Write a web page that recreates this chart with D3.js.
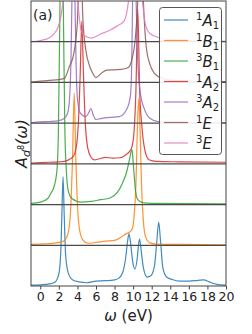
<!DOCTYPE html>
<html>
<head>
<meta charset="utf-8">
<script src="https://cdn.jsdelivr.net/npm/d3@7"></script>
<style>
  body { margin: 0; background: #fff; }
  svg { display: block; }
  text { font-family: "DejaVu Sans", sans-serif; }
</style>
</head>
<body>
<div class="canva"></div>
<script>
// spin multiplicity, irrep letter, subscript
const states = [["1", "A", "1"], ["1", "B", "1"], ["3", "B", "1"], ["1", "A", "2"],
                ["3", "A", "2"], ["1", "E", ""], ["3", "E", ""]];
const colors = ["#1f77b4", "#ff7f0e", "#2ca02c", "#d62728", "#9467bd", "#8c564b", "#e377c2"];
const xTicks = [0, 2, 4, 6, 8, 10, 12, 14, 16, 18, 20];

// spectra: [omega (eV), A]
const a1A1 = [[-1,0.02],[0,0.03],[1,0.05],[1.6,0.1],[2.0,0.3],[2.2,0.8],[2.33,1.8],[2.45,2.68],[2.57,1.8],[2.72,0.8],[3.0,0.33],[3.5,0.15],[4.2,0.1],[5,0.08],[6,0.12],[7,0.13],[8,0.15],[8.5,0.2],[8.9,0.35],[9.2,0.7],[9.4,1.1],[9.55,1.28],[9.7,1.1],[9.95,0.6],[10.2,0.42],[10.45,0.7],[10.6,1.05],[10.7,1.15],[10.85,0.9],[11.1,0.45],[11.5,0.22],[11.9,0.25],[12.3,0.5],[12.55,1.1],[12.75,1.57],[12.95,1.1],[13.2,0.45],[13.6,0.22],[14.2,0.16],[15,0.12],[16,0.12],[17,0.14],[17.6,0.15],[18.2,0.1],[19,0.04],[20,0.02]];
const a1B1 = [[-1,0.02],[0,0.03],[1,0.04],[2,0.07],[2.6,0.12],[3.0,0.3],[3.25,0.8],[3.48,2.2],[3.65,3.74],[3.82,2.2],[4.05,0.8],[4.3,0.3],[4.7,0.1],[5.2,0.05],[6,0.07],[7,0.1],[8,0.12],[8.7,0.2],[9.2,0.28],[9.6,0.32],[9.9,0.4],[10.1,0.7],[10.3,1.5],[10.45,2.8],[10.6,3.6],[10.75,2.8],[10.9,1.5],[11.1,0.6],[11.35,0.2],[11.8,0.06],[12.5,0.03],[15,0.02],[20,0.01]];
const a3B1 = [[-1,0.03],[0,0.06],[0.8,0.15],[1.2,0.3],[1.5,0.45],[1.8,0.86],[1.95,1.8],[2.1,4.5],[2.3,8],[2.5,4.5],[2.65,1.8],[2.8,0.86],[3.0,0.35],[3.4,0.15],[4.4,0.06],[5.5,0.08],[6.5,0.12],[7.5,0.16],[8.3,0.3],[8.8,0.5],[9.3,0.8],[9.6,1.1],[9.87,1.35],[10.05,0.9],[10.25,0.35],[10.5,0.12],[11,0.05],[12,0.03],[20,0.02]];
const a1A2 = [[-1,0.02],[0,0.03],[1,0.04],[2,0.05],[2.6,0.06],[3.2,0.12],[3.6,0.2],[3.9,0.45],[4.1,1.0],[4.3,2.2],[4.47,3.5],[4.65,2.2],[4.85,1.0],[5.1,0.4],[5.5,0.15],[5.8,0.1],[6.3,0.12],[7,0.16],[7.8,0.14],[8.6,0.15],[9.2,0.22],[9.6,0.3],[9.85,0.4],[10.1,0.8],[10.3,1.8],[10.5,3.8],[10.7,1.8],[10.95,0.9],[11.25,0.35],[11.7,0.1],[12.5,0.06],[15,0.05],[20,0.04]];
const a3A2 = [[-1,0.01],[0,0.03],[1,0.04],[2,0.06],[2.6,0.12],[2.95,0.25],[3.15,0.6],[3.3,1.5],[3.42,3.2],[3.56,5],[3.72,3.2],[3.85,1.5],[4.0,0.6],[4.3,0.25],[4.9,0.16],[5.2,0.25],[5.45,0.36],[5.7,0.2],[6.0,0.09],[6.5,0.11],[7.5,0.14],[8.5,0.16],[9.2,0.3],[9.5,0.45],[9.72,0.7],[9.85,1.5],[9.95,3.2],[10.1,5],[10.3,3.2],[10.5,1.5],[10.8,0.7],[11.2,0.35],[11.8,0.12],[12.8,0.03],[15,0.02],[20,0.01]];
const a1E = [[-1,0.01],[0,0.03],[1,0.05],[2,0.07],[2.6,0.1],[3.1,0.37],[3.6,0.7],[4.0,1.5],[4.3,3.5],[4.6,1.5],[4.9,0.8],[5.35,0.38],[5.6,0.25],[6.0,0.12],[6.7,0.25],[7.2,0.3],[8,0.31],[9,0.33],[9.5,0.37],[9.9,0.6],[10.2,1.0],[10.5,2.0],[10.8,4.0],[11.1,2.0],[11.4,0.9],[11.8,0.45],[12.3,0.22],[12.8,0.13],[14,0.06],[17,0.03],[20,0.02]];
const a3E = [[-1,0.0],[0,0.03],[1,0.1],[1.5,0.2],[1.9,0.35],[2.2,0.6],[2.5,1.1],[2.8,1.8],[3.2,2.3],[3.6,2.0],[3.9,1.3],[4.2,0.6],[4.4,0.27],[4.8,0.14],[5.5,0.09],[6.5,0.19],[7.5,0.28],[8.3,0.39],[9.0,0.5],[9.3,0.7],[9.6,1.2],[9.9,2.0],[10.3,2.3],[10.7,1.8],[11.0,1.0],[11.3,0.45],[11.8,0.2],[12.8,0.1],[14,0.06],[17,0.03],[20,0.01]];
const spectra = [a1A1, a1B1, a3B1, a1A2, a3A2, a1E, a3E];

const W = 252, H = 334;
const mLeft = 31, mRight = 226, mTop = 1, mBottom = 286;

const svg = d3.select(".canva").append("svg")
    .attr("width", W)
    .attr("height", H);

const x = d3.scaleLinear().domain([-1, 20]).range([mLeft, mRight]);
const y = d3.scaleLinear().domain([0, 7]).range([mBottom, mTop]);

svg.append("clipPath").attr("id", "clip")
  .append("rect")
    .attr("x", mLeft).attr("y", mTop)
    .attr("width", mRight - mLeft).attr("height", mBottom - mTop);

const plot = svg.append("g").attr("clip-path", "url(#clip)");

const line = d3.line().curve(d3.curveMonotoneX);

spectra.forEach((s, i) => {
  plot.append("path")
    .attr("d", line(s.map(d => [x(d[0]), y(d[1] + i)])))
    .attr("fill", "none")
    .attr("stroke", colors[i])
    .attr("stroke-opacity", 0.85)
    .attr("stroke-width", 1.2);
});

// offset lines
plot.selectAll(".base").data(d3.range(1, 7)).enter().append("line")
    .attr("x1", mLeft).attr("x2", mRight)
    .attr("y1", d => y(d)).attr("y2", d => y(d))
    .attr("stroke", "#4a4a4a")
    .attr("stroke-width", 1.2);

// frame
svg.append("rect")
    .attr("x", mLeft).attr("y", mTop)
    .attr("width", mRight - mLeft).attr("height", mBottom - mTop)
    .attr("fill", "none")
    .attr("stroke", "#444")
    .attr("stroke-width", 1);

const xAxis = svg.append("g")
    .attr("transform", `translate(0,${mBottom})`)
    .call(d3.axisBottom(x).tickValues(xTicks).tickSize(3.5).tickPadding(3));
xAxis.select(".domain").remove();
xAxis.selectAll("line").attr("stroke", "#444");
xAxis.selectAll("text")
    .attr("font-size", 12.5)
    .attr("fill", "#222")
    .attr("font-family", "DejaVu Sans");

svg.append("text")
    .attr("x", 33).attr("y", 20)
    .attr("font-size", 14)
    .attr("fill", "#222")
    .text("(a)");

// x label
const xl = svg.append("text")
    .attr("x", (mLeft + mRight) / 2).attr("y", 321)
    .attr("text-anchor", "middle")
    .attr("font-size", 15)
    .attr("fill", "#222");
xl.append("tspan").attr("font-style", "italic").text("ω");
xl.append("tspan").text(" (eV)");

// y label
const yl = svg.append("text")
    .attr("transform", `translate(27,${(mTop + mBottom) / 2}) rotate(-90)`)
    .attr("text-anchor", "middle")
    .attr("font-size", 16)
    .attr("fill", "#222");
yl.append("tspan").attr("font-style", "italic").text("A");
yl.append("tspan").attr("font-style", "italic").attr("font-size", 11).attr("dy", 3).text("d");
yl.append("tspan").attr("font-size", 8).attr("dy", -6).text("8");
yl.append("tspan").attr("font-style", "italic").attr("dy", 3).text("(ω)");

// legend
const lg = svg.append("g");
lg.append("rect")
    .attr("x", 159.5).attr("y", 7.5)
    .attr("width", 62).attr("height", 147)
    .attr("rx", 3)
    .attr("fill", "#fff")
    .attr("fill-opacity", 0.9)
    .attr("stroke", "#555")
    .attr("stroke-width", 1);

states.forEach((s, i) => {
  const cy = 20 + i * 20.5;
  lg.append("line")
    .attr("x1", 164).attr("x2", 188)
    .attr("y1", cy).attr("y2", cy)
    .attr("stroke", colors[i])
    .attr("stroke-opacity", 0.85)
    .attr("stroke-width", 1.2);
  const t = lg.append("text")
    .attr("x", 196).attr("y", cy + 6)
    .attr("font-size", 15)
    .attr("fill", "#222");
  t.append("tspan").attr("font-size", 10).attr("dy", -6).text(s[0]);
  t.append("tspan").attr("font-style", "italic").attr("dy", 6).text(s[1]);
  if (s[2]) t.append("tspan").attr("font-size", 10).attr("dy", 3).text(s[2]);
});
</script>
</body>
</html>
